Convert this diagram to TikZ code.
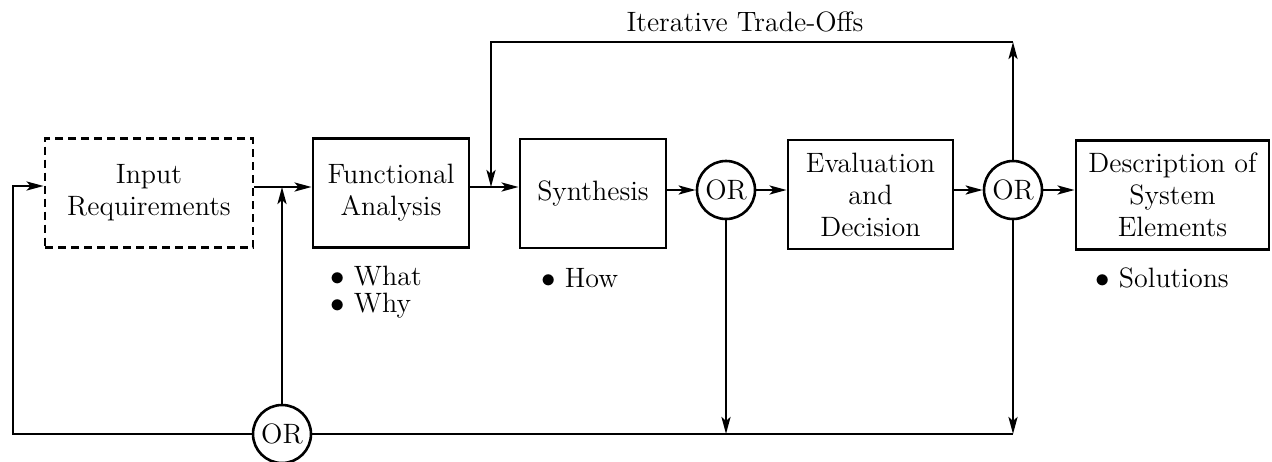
\documentclass[tikz,border=0pt]{standalone}
\usetikzlibrary{arrows.meta}
\begin{document}
\begin{tikzpicture}[x=0.5pt,y=-0.5pt,
  every node/.style={font=\fontsize{14}{16}\selectfont},
  blk/.style={draw,line width=1.4pt,align=center,inner sep=0pt,minimum height=54.5pt},
  orn/.style={draw,circle,line width=1.3pt,minimum size=29pt,inner sep=0pt},
  bul/.style={anchor=west,inner sep=0pt,align=left},
  ln/.style={line width=1.3pt},
  arr/.style={ln,-{Stealth[length=8.5pt,width=4.5pt,inset=2pt]}}]
\useasboundingbox (0,0) rectangle (1272,461);
% blocks
\node[blk,dash pattern=on 4pt off 2.5pt,minimum width=104pt] (inp) at (149,193) {Input\\Requirements};
\node[blk,minimum width=78pt] (fa) at (391,193) {Functional\\Analysis};
\node[blk,minimum width=73pt] (syn) at (593,193.5) {Synthesis};
\node[orn] (or1) at (726,190) {OR};
\node[blk,minimum width=82.5pt] (ev) at (870.5,194.5) {Evaluation\\and\\Decision};
\node[orn] (or2) at (1013,190) {OR};
\node[blk,minimum width=96.5pt] (desc) at (1172.5,195) {Description of\\System\\Elements};
\node[orn] (or3) at (282,434) {OR};
% labels
\node (title) at (745,22) {Iterative Trade-Offs};
\node[bul] (what) at (330,276) {$\bullet$\ What};
\node[bul] (why) at (330,306) {$\bullet$\ Why};
\node[bul] (synb) at (541,278) {$\bullet$\ How};
\node[bul] (descb) at (1095,278) {$\bullet$\ Solutions};
% helper coordinates
\coordinate (tl) at (491,42);
\coordinate (bl) at (13,434);
\coordinate (lv) at (13,186);
\coordinate (j1) at (282,187);
\coordinate (j2) at (491,187);
\coordinate (tr) at (or2.north |- tl);
\coordinate (br) at (or2.south |- bl);
\coordinate (b1) at (or1.south |- bl);
% main flow
\draw[arr] (inp.east |- j1) -- (fa.west |- j1);
\draw[arr] (fa.east |- j2) -- (syn.west |- j2);
\draw[arr] (syn.east |- or1.west) -- (or1.west);
\draw[arr] (or1.east) -- (ev.west |- or1.east);
\draw[arr] (ev.east |- or2.west) -- (or2.west);
\draw[arr] (or2.east) -- (desc.west |- or2.east);
% feedback
\draw[arr] (or2.north) -- (tr);
\draw[arr] (tr) -- (tl) -- (j2);
\draw[arr] (or1.south) -- (b1);
\draw[arr] (or2.south) -- (br);
\draw[ln] (or3.east) -- (br);
\draw[arr] (or3.north) -- (j1);
\draw[arr] (or3.west) -- (bl) -- (lv) -- (inp.west |- lv);
\end{tikzpicture}
\end{document}
